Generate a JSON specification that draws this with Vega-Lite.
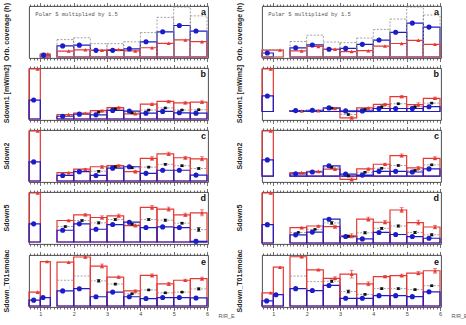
{
  "$schema": "https://vega.github.io/schema/vega-lite/v6.json",
  "padding": {"left": 2, "top": 1, "right": 0, "bottom": 0},
  "background": "white",
  "config": {
    "font": "Liberation Sans",
    "view": {"stroke": "#3a3a3a", "strokeWidth": 0.9},
    "axis": {"domain": false, "grid": false, "labelFont": "Liberation Sans", "titleFont": "Liberation Sans", "tickColor": "#333333", "tickWidth": 0.7, "labelColor": "#444444", "labelFontSize": 5.5},
    "header": {"labelOrient": "left", "labelAngle": -90, "labelPadding": 13, "labelFontSize": 7, "labelFontWeight": "bold", "labelColor": "#222222", "labelFont": "Liberation Sans"}
  },
  "datasets": {
    "rows": [
      {"side":"L","p":"a","s":"all","x0":1,"x1":1.3,"v":10},
      {"side":"L","p":"a","s":"B","x0":1,"x1":1.3,"r":1.1,"v":5},
      {"side":"L","p":"a","s":"A","x0":1,"x1":1.3,"r":1.22,"v":8},
      {"side":"L","p":"a","s":"all","x0":1.5,"x1":2,"v":47},
      {"side":"L","p":"a","s":"B","x0":1.5,"x1":2,"r":1.67,"v":30},
      {"side":"L","p":"a","s":"A","x0":1.5,"x1":2,"r":1.85,"v":16},
      {"side":"L","p":"a","s":"all","x0":2,"x1":2.5,"v":52},
      {"side":"L","p":"a","s":"B","x0":2,"x1":2.5,"r":2.17,"v":32},
      {"side":"L","p":"a","s":"A","x0":2,"x1":2.5,"r":2.35,"v":19.5},
      {"side":"L","p":"a","s":"all","x0":2.5,"x1":3,"v":36},
      {"side":"L","p":"a","s":"B","x0":2.5,"x1":3,"r":2.67,"v":18},
      {"side":"L","p":"a","s":"A","x0":2.5,"x1":3,"r":2.85,"v":18},
      {"side":"L","p":"a","s":"all","x0":3,"x1":3.5,"v":36},
      {"side":"L","p":"a","s":"B","x0":3,"x1":3.5,"r":3.17,"v":18},
      {"side":"L","p":"a","s":"A","x0":3,"x1":3.5,"r":3.35,"v":20},
      {"side":"L","p":"a","s":"all","x0":3.5,"x1":4,"v":41},
      {"side":"L","p":"a","s":"B","x0":3.5,"x1":4,"r":3.67,"v":22},
      {"side":"L","p":"a","s":"A","x0":3.5,"x1":4,"r":3.85,"v":16.5},
      {"side":"L","p":"a","s":"all","x0":4,"x1":4.5,"v":66},
      {"side":"L","p":"a","s":"B","x0":4,"x1":4.5,"r":4.17,"v":41},
      {"side":"L","p":"a","s":"A","x0":4,"x1":4.5,"r":4.35,"v":25},
      {"side":"L","p":"a","s":"all","x0":4.5,"x1":5,"v":107},
      {"side":"L","p":"a","s":"B","x0":4.5,"x1":5,"r":4.67,"v":68},
      {"side":"L","p":"a","s":"A","x0":4.5,"x1":5,"r":4.85,"v":37},
      {"side":"L","p":"a","s":"all","x0":5,"x1":5.5,"v":135},
      {"side":"L","p":"a","s":"B","x0":5,"x1":5.5,"r":5.17,"v":85},
      {"side":"L","p":"a","s":"A","x0":5,"x1":5.5,"r":5.35,"v":46},
      {"side":"L","p":"a","s":"all","x0":5.5,"x1":6,"v":111},
      {"side":"L","p":"a","s":"B","x0":5.5,"x1":6,"r":5.67,"v":70},
      {"side":"L","p":"a","s":"A","x0":5.5,"x1":6,"r":5.85,"v":41.5},

      {"side":"R","p":"a","s":"all","x0":0.66,"x1":1.3,"v":13},
      {"side":"R","p":"a","s":"B","x0":0.66,"x1":1,"r":0.82,"v":7},
      {"side":"R","p":"a","s":"A","x0":0.66,"x1":1.3,"r":1.2,"v":12},
      {"side":"R","p":"a","s":"all","x0":1.5,"x1":2,"v":27},
      {"side":"R","p":"a","s":"B","x0":1.5,"x1":2,"r":1.67,"v":16},
      {"side":"R","p":"a","s":"A","x0":1.5,"x1":2,"r":1.85,"v":10.5},
      {"side":"R","p":"a","s":"all","x0":2,"x1":2.5,"v":38},
      {"side":"R","p":"a","s":"B","x0":2,"x1":2.5,"r":2.17,"v":21},
      {"side":"R","p":"a","s":"A","x0":2,"x1":2.5,"r":2.35,"v":18.5},
      {"side":"R","p":"a","s":"all","x0":2.5,"x1":3,"v":26},
      {"side":"R","p":"a","s":"B","x0":2.5,"x1":3,"r":2.67,"v":13.5},
      {"side":"R","p":"a","s":"A","x0":2.5,"x1":3,"r":2.85,"v":13.5},
      {"side":"R","p":"a","s":"all","x0":3,"x1":3.5,"v":25},
      {"side":"R","p":"a","s":"B","x0":3,"x1":3.5,"r":3.17,"v":15},
      {"side":"R","p":"a","s":"A","x0":3,"x1":3.5,"r":3.35,"v":9.5},
      {"side":"R","p":"a","s":"all","x0":3.5,"x1":4,"v":33},
      {"side":"R","p":"a","s":"B","x0":3.5,"x1":4,"r":3.67,"v":22},
      {"side":"R","p":"a","s":"A","x0":3.5,"x1":4,"r":3.85,"v":11},
      {"side":"R","p":"a","s":"all","x0":4,"x1":4.5,"v":48},
      {"side":"R","p":"a","s":"B","x0":4,"x1":4.5,"r":4.17,"v":29.5},
      {"side":"R","p":"a","s":"A","x0":4,"x1":4.5,"r":4.35,"v":19},
      {"side":"R","p":"a","s":"all","x0":4.5,"x1":5,"v":66},
      {"side":"R","p":"a","s":"B","x0":4.5,"x1":5,"r":4.67,"v":43},
      {"side":"R","p":"a","s":"A","x0":4.5,"x1":5,"r":4.85,"v":23.5},
      {"side":"R","p":"a","s":"all","x0":5,"x1":5.5,"v":87},
      {"side":"R","p":"a","s":"B","x0":5,"x1":5.5,"r":5.17,"v":59},
      {"side":"R","p":"a","s":"A","x0":5,"x1":5.5,"r":5.35,"v":29},
      {"side":"R","p":"a","s":"all","x0":5.5,"x1":6,"v":73},
      {"side":"R","p":"a","s":"B","x0":5.5,"x1":6,"r":5.67,"v":52},
      {"side":"R","p":"a","s":"A","x0":5.5,"x1":6,"r":5.85,"v":22},

      {"side":"L","p":"b","s":"A","x0":0.66,"x1":1,"r":0.92,"v":1.45},
      {"side":"L","p":"b","s":"B","x0":0.66,"x1":1,"r":0.8,"v":0.55},
      {"side":"L","p":"b","s":"A","x0":1.5,"x1":2,"r":1.85,"v":0.13},
      {"side":"L","p":"b","s":"B","x0":1.5,"x1":2,"r":1.67,"v":0.08},
      {"side":"L","p":"b","s":"all","x0":1.5,"x1":2,"v":0.1},
      {"side":"L","p":"b","s":"A","x0":2,"x1":2.5,"r":2.35,"v":0.17},
      {"side":"L","p":"b","s":"B","x0":2,"x1":2.5,"r":2.17,"v":0.14},
      {"side":"L","p":"b","s":"all","x0":2,"x1":2.5,"v":0.15},
      {"side":"L","p":"b","s":"A","x0":2.5,"x1":3,"r":2.85,"v":0.24,"lo":0.22,"hi":0.26},
      {"side":"L","p":"b","s":"B","x0":2.5,"x1":3,"r":2.67,"v":0.12},
      {"side":"L","p":"b","s":"all","x0":2.5,"x1":3,"r":2.75,"v":0.2,"lo":0.185,"hi":0.215},
      {"side":"L","p":"b","s":"A","x0":3,"x1":3.5,"r":3.35,"v":0.33,"lo":0.31,"hi":0.35},
      {"side":"L","p":"b","s":"B","x0":3,"x1":3.5,"r":3.17,"v":0.25},
      {"side":"L","p":"b","s":"all","x0":3,"x1":3.5,"r":3.25,"v":0.29,"lo":0.275,"hi":0.305},
      {"side":"L","p":"b","s":"A","x0":3.5,"x1":4,"r":3.85,"v":0.15,"lo":0.13,"hi":0.17},
      {"side":"L","p":"b","s":"B","x0":3.5,"x1":4,"r":3.67,"v":0.23},
      {"side":"L","p":"b","s":"all","x0":3.5,"x1":4,"r":3.75,"v":0.18,"lo":0.165,"hi":0.195},
      {"side":"L","p":"b","s":"A","x0":4,"x1":4.5,"r":4.35,"v":0.43,"lo":0.4,"hi":0.46},
      {"side":"L","p":"b","s":"B","x0":4,"x1":4.5,"r":4.17,"v":0.17},
      {"side":"L","p":"b","s":"all","x0":4,"x1":4.5,"r":4.25,"v":0.26,"lo":0.245,"hi":0.275},
      {"side":"L","p":"b","s":"A","x0":4.5,"x1":5,"r":4.85,"v":0.51,"lo":0.48,"hi":0.54},
      {"side":"L","p":"b","s":"B","x0":4.5,"x1":5,"r":4.67,"v":0.22},
      {"side":"L","p":"b","s":"all","x0":4.5,"x1":5,"r":4.75,"v":0.32,"lo":0.305,"hi":0.335},
      {"side":"L","p":"b","s":"A","x0":5,"x1":5.5,"r":5.35,"v":0.47,"lo":0.44,"hi":0.5},
      {"side":"L","p":"b","s":"B","x0":5,"x1":5.5,"r":5.17,"v":0.18},
      {"side":"L","p":"b","s":"all","x0":5,"x1":5.5,"r":5.25,"v":0.26,"lo":0.245,"hi":0.275},
      {"side":"L","p":"b","s":"A","x0":5.5,"x1":6,"r":5.85,"v":0.49,"lo":0.455,"hi":0.525},
      {"side":"L","p":"b","s":"B","x0":5.5,"x1":6,"r":5.67,"v":0.17},
      {"side":"L","p":"b","s":"all","x0":5.5,"x1":6,"r":5.75,"v":0.27,"lo":0.255,"hi":0.285},

      {"side":"R","p":"b","s":"A","x0":0.66,"x1":1,"r":0.92,"v":1.42},
      {"side":"R","p":"b","s":"B","x0":0.66,"x1":1,"r":0.82,"v":0.52},
      {"side":"R","p":"b","s":"A","x0":1.5,"x1":2,"r":1.85,"v":0.02},
      {"side":"R","p":"b","s":"B","x0":1.5,"x1":2,"r":1.67,"v":0.03},
      {"side":"R","p":"b","s":"all","x0":1.5,"x1":2,"v":0.025},
      {"side":"R","p":"b","s":"A","x0":2,"x1":2.5,"r":2.35,"v":0.03},
      {"side":"R","p":"b","s":"B","x0":2,"x1":2.5,"r":2.17,"v":0.04},
      {"side":"R","p":"b","s":"all","x0":2,"x1":2.5,"v":0.035},
      {"side":"R","p":"b","s":"A","x0":2.5,"x1":3,"r":2.85,"v":0.1,"lo":0.085,"hi":0.115},
      {"side":"R","p":"b","s":"B","x0":2.5,"x1":3,"r":2.67,"v":0.12},
      {"side":"R","p":"b","s":"all","x0":2.5,"x1":3,"r":2.75,"v":0.11,"lo":0.1,"hi":0.12},
      {"side":"R","p":"b","s":"A","x0":3,"x1":3.5,"r":3.35,"v":-0.21,"lo":-0.25,"hi":-0.17},
      {"side":"R","p":"b","s":"B","x0":3,"x1":3.5,"r":3.17,"v":0.02},
      {"side":"R","p":"b","s":"all","x0":3,"x1":3.5,"r":3.25,"v":-0.1,"lo":-0.12,"hi":-0.08},
      {"side":"R","p":"b","s":"A","x0":3.5,"x1":4,"r":3.85,"v":0.12,"lo":0.1,"hi":0.14},
      {"side":"R","p":"b","s":"B","x0":3.5,"x1":4,"r":3.67,"v":0.02},
      {"side":"R","p":"b","s":"all","x0":3.5,"x1":4,"r":3.75,"v":0.07,"lo":0.06,"hi":0.08},
      {"side":"R","p":"b","s":"A","x0":4,"x1":4.5,"r":4.35,"v":0.24,"lo":0.21,"hi":0.27},
      {"side":"R","p":"b","s":"B","x0":4,"x1":4.5,"r":4.17,"v":0.1},
      {"side":"R","p":"b","s":"all","x0":4,"x1":4.5,"r":4.25,"v":0.16,"lo":0.15,"hi":0.17},
      {"side":"R","p":"b","s":"A","x0":4.5,"x1":5,"r":4.85,"v":0.5,"lo":0.46,"hi":0.54},
      {"side":"R","p":"b","s":"B","x0":4.5,"x1":5,"r":4.67,"v":0.1},
      {"side":"R","p":"b","s":"all","x0":4.5,"x1":5,"r":4.75,"v":0.26,"lo":0.245,"hi":0.275},
      {"side":"R","p":"b","s":"A","x0":5,"x1":5.5,"r":5.35,"v":0.23,"lo":0.17,"hi":0.29},
      {"side":"R","p":"b","s":"B","x0":5,"x1":5.5,"r":5.17,"v":0.1},
      {"side":"R","p":"b","s":"all","x0":5,"x1":5.5,"r":5.25,"v":0.16,"lo":0.145,"hi":0.175},
      {"side":"R","p":"b","s":"A","x0":5.5,"x1":6,"r":5.85,"v":0.44,"lo":0.4,"hi":0.48},
      {"side":"R","p":"b","s":"B","x0":5.5,"x1":6,"r":5.67,"v":0.16},
      {"side":"R","p":"b","s":"all","x0":5.5,"x1":6,"r":5.75,"v":0.28,"lo":0.265,"hi":0.295},

      {"side":"L","p":"c","s":"A","x0":0.66,"x1":1,"r":0.92,"v":1.44},
      {"side":"L","p":"c","s":"B","x0":0.66,"x1":1,"r":0.8,"v":0.55},
      {"side":"L","p":"c","s":"A","x0":1.5,"x1":2,"r":1.85,"v":0.24,"lo":0.225,"hi":0.255},
      {"side":"L","p":"c","s":"B","x0":1.5,"x1":2,"r":1.67,"v":0.16},
      {"side":"L","p":"c","s":"all","x0":1.5,"x1":2,"v":0.2},
      {"side":"L","p":"c","s":"A","x0":2,"x1":2.5,"r":2.35,"v":0.34,"lo":0.32,"hi":0.36},
      {"side":"L","p":"c","s":"B","x0":2,"x1":2.5,"r":2.17,"v":0.27},
      {"side":"L","p":"c","s":"all","x0":2,"x1":2.5,"v":0.3},
      {"side":"L","p":"c","s":"A","x0":2.5,"x1":3,"r":2.85,"v":0.41,"lo":0.37,"hi":0.45},
      {"side":"L","p":"c","s":"B","x0":2.5,"x1":3,"r":2.67,"v":0.16},
      {"side":"L","p":"c","s":"all","x0":2.5,"x1":3,"r":2.75,"v":0.28,"lo":0.26,"hi":0.3},
      {"side":"L","p":"c","s":"A","x0":3,"x1":3.5,"r":3.35,"v":0.44,"lo":0.41,"hi":0.47},
      {"side":"L","p":"c","s":"B","x0":3,"x1":3.5,"r":3.17,"v":0.37},
      {"side":"L","p":"c","s":"all","x0":3,"x1":3.5,"r":3.25,"v":0.41,"lo":0.39,"hi":0.43},
      {"side":"L","p":"c","s":"A","x0":3.5,"x1":4,"r":3.85,"v":0.27,"lo":0.24,"hi":0.3},
      {"side":"L","p":"c","s":"B","x0":3.5,"x1":4,"r":3.67,"v":0.41},
      {"side":"L","p":"c","s":"all","x0":3.5,"x1":4,"r":3.75,"v":0.38,"lo":0.36,"hi":0.4},
      {"side":"L","p":"c","s":"A","x0":4,"x1":4.5,"r":4.35,"v":0.65,"lo":0.6,"hi":0.7},
      {"side":"L","p":"c","s":"B","x0":4,"x1":4.5,"r":4.17,"v":0.22},
      {"side":"L","p":"c","s":"all","x0":4,"x1":4.5,"r":4.25,"v":0.4,"lo":0.38,"hi":0.42},
      {"side":"L","p":"c","s":"A","x0":4.5,"x1":5,"r":4.85,"v":0.78,"lo":0.73,"hi":0.83},
      {"side":"L","p":"c","s":"B","x0":4.5,"x1":5,"r":4.67,"v":0.31},
      {"side":"L","p":"c","s":"all","x0":4.5,"x1":5,"r":4.75,"v":0.48,"lo":0.46,"hi":0.5},
      {"side":"L","p":"c","s":"A","x0":5,"x1":5.5,"r":5.35,"v":0.67,"lo":0.63,"hi":0.71},
      {"side":"L","p":"c","s":"B","x0":5,"x1":5.5,"r":5.17,"v":0.31},
      {"side":"L","p":"c","s":"all","x0":5,"x1":5.5,"r":5.25,"v":0.44,"lo":0.42,"hi":0.46},
      {"side":"L","p":"c","s":"A","x0":5.5,"x1":6,"r":5.85,"v":0.64,"lo":0.58,"hi":0.7},
      {"side":"L","p":"c","s":"B","x0":5.5,"x1":6,"r":5.67,"v":0.17},
      {"side":"L","p":"c","s":"all","x0":5.5,"x1":6,"r":5.75,"v":0.36,"lo":0.34,"hi":0.38},

      {"side":"R","p":"c","s":"A","x0":0.66,"x1":1,"r":0.92,"v":1.45},
      {"side":"R","p":"c","s":"B","x0":0.66,"x1":1,"r":0.82,"v":0.52},
      {"side":"R","p":"c","s":"A","x0":1.5,"x1":2,"r":1.85,"v":0.11},
      {"side":"R","p":"c","s":"B","x0":1.5,"x1":2,"r":1.67,"v":0.07},
      {"side":"R","p":"c","s":"all","x0":1.5,"x1":2,"v":0.09},
      {"side":"R","p":"c","s":"A","x0":2,"x1":2.5,"r":2.35,"v":0.15},
      {"side":"R","p":"c","s":"B","x0":2,"x1":2.5,"r":2.17,"v":0.13},
      {"side":"R","p":"c","s":"all","x0":2,"x1":2.5,"v":0.14},
      {"side":"R","p":"c","s":"A","x0":2.5,"x1":3,"r":2.85,"v":0.22,"lo":0.2,"hi":0.24},
      {"side":"R","p":"c","s":"B","x0":2.5,"x1":3,"r":2.67,"v":0.33},
      {"side":"R","p":"c","s":"all","x0":2.5,"x1":3,"r":2.75,"v":0.28,"lo":0.26,"hi":0.3},
      {"side":"R","p":"c","s":"A","x0":3,"x1":3.5,"r":3.35,"v":-0.11,"lo":-0.16,"hi":-0.06},
      {"side":"R","p":"c","s":"B","x0":3,"x1":3.5,"r":3.17,"v":0.06},
      {"side":"R","p":"c","s":"all","x0":3,"x1":3.5,"r":3.25,"v":0,"lo":-0.02,"hi":0.02},
      {"side":"R","p":"c","s":"A","x0":3.5,"x1":4,"r":3.85,"v":0.23,"lo":0.2,"hi":0.26},
      {"side":"R","p":"c","s":"B","x0":3.5,"x1":4,"r":3.67,"v":0.03},
      {"side":"R","p":"c","s":"all","x0":3.5,"x1":4,"r":3.75,"v":0.12,"lo":0.105,"hi":0.135},
      {"side":"R","p":"c","s":"A","x0":4,"x1":4.5,"r":4.35,"v":0.38,"lo":0.35,"hi":0.41},
      {"side":"R","p":"c","s":"B","x0":4,"x1":4.5,"r":4.17,"v":0.15},
      {"side":"R","p":"c","s":"all","x0":4,"x1":4.5,"r":4.25,"v":0.25,"lo":0.235,"hi":0.265},
      {"side":"R","p":"c","s":"A","x0":4.5,"x1":5,"r":4.85,"v":0.66,"lo":0.61,"hi":0.71},
      {"side":"R","p":"c","s":"B","x0":4.5,"x1":5,"r":4.67,"v":0.15},
      {"side":"R","p":"c","s":"all","x0":4.5,"x1":5,"r":4.75,"v":0.34,"lo":0.32,"hi":0.36},
      {"side":"R","p":"c","s":"A","x0":5,"x1":5.5,"r":5.35,"v":0.26,"lo":0.21,"hi":0.31},
      {"side":"R","p":"c","s":"B","x0":5,"x1":5.5,"r":5.17,"v":0.13},
      {"side":"R","p":"c","s":"all","x0":5,"x1":5.5,"r":5.25,"v":0.18,"lo":0.165,"hi":0.195},
      {"side":"R","p":"c","s":"A","x0":5.5,"x1":6,"r":5.85,"v":0.57,"lo":0.52,"hi":0.62},
      {"side":"R","p":"c","s":"B","x0":5.5,"x1":6,"r":5.67,"v":0.23},
      {"side":"R","p":"c","s":"all","x0":5.5,"x1":6,"r":5.75,"v":0.36,"lo":0.34,"hi":0.38},

      {"side":"L","p":"d","s":"A","x0":0.66,"x1":1,"r":0.92,"v":1.46},
      {"side":"L","p":"d","s":"B","x0":0.66,"x1":1,"r":0.8,"v":0.54},
      {"side":"L","p":"d","s":"A","x0":1.5,"x1":2,"r":1.85,"v":0.64,"lo":0.62,"hi":0.66},
      {"side":"L","p":"d","s":"B","x0":1.5,"x1":2,"r":1.67,"v":0.35},
      {"side":"L","p":"d","s":"all","x0":1.5,"x1":2,"r":1.75,"v":0.46,"lo":0.445,"hi":0.475},
      {"side":"L","p":"d","s":"A","x0":2,"x1":2.5,"r":2.35,"v":0.81,"lo":0.78,"hi":0.84},
      {"side":"L","p":"d","s":"B","x0":2,"x1":2.5,"r":2.17,"v":0.54},
      {"side":"L","p":"d","s":"all","x0":2,"x1":2.5,"r":2.25,"v":0.64,"lo":0.62,"hi":0.66},
      {"side":"L","p":"d","s":"A","x0":2.5,"x1":3,"r":2.85,"v":0.73,"lo":0.68,"hi":0.78},
      {"side":"L","p":"d","s":"B","x0":2.5,"x1":3,"r":2.67,"v":0.38},
      {"side":"L","p":"d","s":"all","x0":2.5,"x1":3,"r":2.75,"v":0.57,"lo":0.54,"hi":0.6},
      {"side":"L","p":"d","s":"A","x0":3,"x1":3.5,"r":3.35,"v":0.78,"lo":0.73,"hi":0.83},
      {"side":"L","p":"d","s":"B","x0":3,"x1":3.5,"r":3.17,"v":0.52},
      {"side":"L","p":"d","s":"all","x0":3,"x1":3.5,"r":3.25,"v":0.67,"lo":0.64,"hi":0.7},
      {"side":"L","p":"d","s":"A","x0":3.5,"x1":4,"r":3.85,"v":0.49,"lo":0.45,"hi":0.53},
      {"side":"L","p":"d","s":"B","x0":3.5,"x1":4,"r":3.67,"v":0.59},
      {"side":"L","p":"d","s":"all","x0":3.5,"x1":4,"r":3.75,"v":0.53,"lo":0.51,"hi":0.55},
      {"side":"L","p":"d","s":"A","x0":4,"x1":4.5,"r":4.35,"v":1.03,"lo":0.97,"hi":1.09},
      {"side":"L","p":"d","s":"B","x0":4,"x1":4.5,"r":4.17,"v":0.43},
      {"side":"L","p":"d","s":"all","x0":4,"x1":4.5,"r":4.25,"v":0.67,"lo":0.64,"hi":0.7},
      {"side":"L","p":"d","s":"A","x0":4.5,"x1":5,"r":4.85,"v":0.98,"lo":0.92,"hi":1.04},
      {"side":"L","p":"d","s":"B","x0":4.5,"x1":5,"r":4.67,"v":0.45},
      {"side":"L","p":"d","s":"all","x0":4.5,"x1":5,"r":4.75,"v":0.65,"lo":0.62,"hi":0.68},
      {"side":"L","p":"d","s":"A","x0":5,"x1":5.5,"r":5.35,"v":0.81,"lo":0.76,"hi":0.86},
      {"side":"L","p":"d","s":"B","x0":5,"x1":5.5,"r":5.17,"v":0.43},
      {"side":"L","p":"d","s":"all","x0":5,"x1":5.5,"r":5.25,"v":0.56,"lo":0.54,"hi":0.58},
      {"side":"L","p":"d","s":"A","x0":5.5,"x1":6,"r":5.85,"v":0.87,"lo":0.78,"hi":0.96},
      {"side":"L","p":"d","s":"B","x0":5.5,"x1":6,"r":5.67,"v":0.02,"lo":-0.03,"hi":0.08},
      {"side":"L","p":"d","s":"all","x0":5.5,"x1":6,"r":5.75,"v":0.37,"lo":0.31,"hi":0.43},

      {"side":"R","p":"d","s":"A","x0":0.66,"x1":1,"r":0.92,"v":1.47},
      {"side":"R","p":"d","s":"B","x0":0.66,"x1":1,"r":0.82,"v":0.54},
      {"side":"R","p":"d","s":"A","x0":1.5,"x1":2,"r":1.85,"v":0.45,"lo":0.43,"hi":0.47},
      {"side":"R","p":"d","s":"B","x0":1.5,"x1":2,"r":1.67,"v":0.24},
      {"side":"R","p":"d","s":"all","x0":1.5,"x1":2,"r":1.75,"v":0.31,"lo":0.3,"hi":0.32},
      {"side":"R","p":"d","s":"A","x0":2,"x1":2.5,"r":2.35,"v":0.5,"lo":0.48,"hi":0.52},
      {"side":"R","p":"d","s":"B","x0":2,"x1":2.5,"r":2.17,"v":0.32},
      {"side":"R","p":"d","s":"all","x0":2,"x1":2.5,"r":2.25,"v":0.4,"lo":0.39,"hi":0.41},
      {"side":"R","p":"d","s":"A","x0":2.5,"x1":3,"r":2.85,"v":0.48,"lo":0.44,"hi":0.52},
      {"side":"R","p":"d","s":"B","x0":2.5,"x1":3,"r":2.67,"v":0.7},
      {"side":"R","p":"d","s":"all","x0":2.5,"x1":3,"r":2.75,"v":0.59,"lo":0.55,"hi":0.63},
      {"side":"R","p":"d","s":"A","x0":3,"x1":3.5,"r":3.35,"v":0.21,"lo":0.15,"hi":0.27},
      {"side":"R","p":"d","s":"B","x0":3,"x1":3.5,"r":3.17,"v":0.19},
      {"side":"R","p":"d","s":"all","x0":3,"x1":3.5,"r":3.25,"v":0.2,"lo":0.17,"hi":0.23},
      {"side":"R","p":"d","s":"A","x0":3.5,"x1":4,"r":3.85,"v":0.7,"lo":0.64,"hi":0.76},
      {"side":"R","p":"d","s":"B","x0":3.5,"x1":4,"r":3.67,"v":0.12},
      {"side":"R","p":"d","s":"all","x0":3.5,"x1":4,"r":3.75,"v":0.3,"lo":0.27,"hi":0.33},
      {"side":"R","p":"d","s":"A","x0":4,"x1":4.5,"r":4.35,"v":0.61,"lo":0.56,"hi":0.66},
      {"side":"R","p":"d","s":"B","x0":4,"x1":4.5,"r":4.17,"v":0.31},
      {"side":"R","p":"d","s":"all","x0":4,"x1":4.5,"r":4.25,"v":0.43,"lo":0.4,"hi":0.46},
      {"side":"R","p":"d","s":"A","x0":4.5,"x1":5,"r":4.85,"v":0.97,"lo":0.9,"hi":1.04},
      {"side":"R","p":"d","s":"B","x0":4.5,"x1":5,"r":4.67,"v":0.25},
      {"side":"R","p":"d","s":"all","x0":4.5,"x1":5,"r":4.75,"v":0.5,"lo":0.47,"hi":0.53},
      {"side":"R","p":"d","s":"A","x0":5,"x1":5.5,"r":5.35,"v":0.6,"lo":0.53,"hi":0.67},
      {"side":"R","p":"d","s":"B","x0":5,"x1":5.5,"r":5.17,"v":0.19},
      {"side":"R","p":"d","s":"all","x0":5,"x1":5.5,"r":5.25,"v":0.31,"lo":0.28,"hi":0.34},
      {"side":"R","p":"d","s":"A","x0":5.5,"x1":6,"r":5.85,"v":0.47,"lo":0.42,"hi":0.52},
      {"side":"R","p":"d","s":"B","x0":5.5,"x1":6,"r":5.67,"v":0.14},
      {"side":"R","p":"d","s":"all","x0":5.5,"x1":6,"r":5.75,"v":0.24,"lo":0.21,"hi":0.27},

      {"side":"L","p":"e","s":"A","x0":0.66,"x1":1,"r":0.92,"v":1.38},
      {"side":"L","p":"e","s":"B","x0":0.66,"x1":1,"r":0.8,"v":0.58},
      {"side":"L","p":"e","s":"A","x0":1,"x1":1.3,"r":1.2,"v":4.42},
      {"side":"L","p":"e","s":"B","x0":1,"x1":1.3,"r":1.08,"v":0.84},
      {"side":"L","p":"e","s":"A","x0":1.5,"x1":2,"r":1.85,"v":4.36},
      {"side":"L","p":"e","s":"B","x0":1.5,"x1":2,"r":1.67,"v":1.5},
      {"side":"L","p":"e","s":"all","x0":1.5,"x1":2,"v":2.56},
      {"side":"L","p":"e","s":"A","x0":2,"x1":2.5,"r":2.35,"v":4.87,"lo":4.77,"hi":4.97},
      {"side":"L","p":"e","s":"B","x0":2,"x1":2.5,"r":2.17,"v":1.72},
      {"side":"L","p":"e","s":"all","x0":2,"x1":2.5,"v":2.98},
      {"side":"L","p":"e","s":"A","x0":2.5,"x1":3,"r":2.85,"v":3.97,"lo":3.77,"hi":4.17},
      {"side":"L","p":"e","s":"B","x0":2.5,"x1":3,"r":2.67,"v":0.92},
      {"side":"L","p":"e","s":"all","x0":2.5,"x1":3,"r":2.75,"v":2.5,"lo":2.38,"hi":2.62},
      {"side":"L","p":"e","s":"A","x0":3,"x1":3.5,"r":3.35,"v":2.88,"lo":2.78,"hi":2.98},
      {"side":"L","p":"e","s":"B","x0":3,"x1":3.5,"r":3.17,"v":1.38},
      {"side":"L","p":"e","s":"all","x0":3,"x1":3.5,"r":3.25,"v":2.18,"lo":2.1,"hi":2.26},
      {"side":"L","p":"e","s":"A","x0":3.5,"x1":4,"r":3.85,"v":1.5,"lo":1.4,"hi":1.6},
      {"side":"L","p":"e","s":"B","x0":3.5,"x1":4,"r":3.67,"v":0.92},
      {"side":"L","p":"e","s":"all","x0":3.5,"x1":4,"r":3.75,"v":1.22,"lo":1.17,"hi":1.27},
      {"side":"L","p":"e","s":"A","x0":4,"x1":4.5,"r":4.35,"v":3.04,"lo":2.89,"hi":3.19},
      {"side":"L","p":"e","s":"B","x0":4,"x1":4.5,"r":4.17,"v":0.74},
      {"side":"L","p":"e","s":"all","x0":4,"x1":4.5,"r":4.25,"v":1.6,"lo":1.55,"hi":1.65},
      {"side":"L","p":"e","s":"A","x0":4.5,"x1":5,"r":4.85,"v":2.2,"lo":2.05,"hi":2.35},
      {"side":"L","p":"e","s":"B","x0":4.5,"x1":5,"r":4.67,"v":0.84},
      {"side":"L","p":"e","s":"all","x0":4.5,"x1":5,"r":4.75,"v":1.31,"lo":1.26,"hi":1.36},
      {"side":"L","p":"e","s":"A","x0":5,"x1":5.5,"r":5.35,"v":2.56,"lo":2.46,"hi":2.66},
      {"side":"L","p":"e","s":"B","x0":5,"x1":5.5,"r":5.17,"v":0.84},
      {"side":"L","p":"e","s":"all","x0":5,"x1":5.5,"r":5.25,"v":1.38,"lo":1.34,"hi":1.42},
      {"side":"L","p":"e","s":"A","x0":5.5,"x1":6,"r":5.85,"v":2.72,"lo":2.57,"hi":2.87},
      {"side":"L","p":"e","s":"B","x0":5.5,"x1":6,"r":5.67,"v":0.8},
      {"side":"L","p":"e","s":"all","x0":5.5,"x1":6,"r":5.75,"v":1.7,"lo":1.6,"hi":1.8},

      {"side":"R","p":"e","s":"A","x0":0.66,"x1":1,"r":0.92,"v":1.37},
      {"side":"R","p":"e","s":"B","x0":0.66,"x1":1,"r":0.8,"v":0.53},
      {"side":"R","p":"e","s":"A","x0":1,"x1":1.3,"r":1.2,"v":4.02},
      {"side":"R","p":"e","s":"B","x0":1,"x1":1.3,"r":1.08,"v":1.17},
      {"side":"R","p":"e","s":"A","x0":1.5,"x1":2,"r":1.85,"v":5.1,"lo":5.02,"hi":5.18},
      {"side":"R","p":"e","s":"B","x0":1.5,"x1":2,"r":1.67,"v":1.8},
      {"side":"R","p":"e","s":"all","x0":1.5,"x1":2,"v":3.1},
      {"side":"R","p":"e","s":"A","x0":2,"x1":2.5,"r":2.35,"v":3.75,"lo":3.68,"hi":3.82},
      {"side":"R","p":"e","s":"B","x0":2,"x1":2.5,"r":2.17,"v":1.6},
      {"side":"R","p":"e","s":"all","x0":2,"x1":2.5,"v":2.53},
      {"side":"R","p":"e","s":"A","x0":2.5,"x1":3,"r":2.85,"v":2.87,"lo":2.72,"hi":3.02},
      {"side":"R","p":"e","s":"B","x0":2.5,"x1":3,"r":2.67,"v":2.13},
      {"side":"R","p":"e","s":"all","x0":2.5,"x1":3,"r":2.75,"v":2.57,"lo":2.45,"hi":2.69},
      {"side":"R","p":"e","s":"A","x0":3,"x1":3.5,"r":3.35,"v":3.3,"lo":2.9,"hi":3.7},
      {"side":"R","p":"e","s":"B","x0":3,"x1":3.5,"r":3.17,"v":0.8},
      {"side":"R","p":"e","s":"all","x0":3,"x1":3.5,"r":3.25,"v":1.5,"lo":1.35,"hi":1.65},
      {"side":"R","p":"e","s":"A","x0":3.5,"x1":4,"r":3.85,"v":2.3,"lo":2.1,"hi":2.5},
      {"side":"R","p":"e","s":"B","x0":3.5,"x1":4,"r":3.67,"v":0.8},
      {"side":"R","p":"e","s":"all","x0":3.5,"x1":4,"r":3.75,"v":1.2,"lo":1.15,"hi":1.25},
      {"side":"R","p":"e","s":"A","x0":4,"x1":4.5,"r":4.35,"v":3.05,"lo":2.93,"hi":3.17},
      {"side":"R","p":"e","s":"B","x0":4,"x1":4.5,"r":4.17,"v":1.07},
      {"side":"R","p":"e","s":"all","x0":4,"x1":4.5,"r":4.25,"v":1.8,"lo":1.73,"hi":1.87},
      {"side":"R","p":"e","s":"A","x0":4.5,"x1":5,"r":4.85,"v":3.15,"lo":3,"hi":3.3},
      {"side":"R","p":"e","s":"B","x0":4.5,"x1":5,"r":4.67,"v":1.07},
      {"side":"R","p":"e","s":"all","x0":4.5,"x1":5,"r":4.75,"v":1.8,"lo":1.73,"hi":1.87},
      {"side":"R","p":"e","s":"A","x0":5,"x1":5.5,"r":5.35,"v":3.4,"lo":3.23,"hi":3.57},
      {"side":"R","p":"e","s":"B","x0":5,"x1":5.5,"r":5.17,"v":0.97},
      {"side":"R","p":"e","s":"all","x0":5,"x1":5.5,"r":5.25,"v":1.7,"lo":1.65,"hi":1.75},
      {"side":"R","p":"e","s":"A","x0":5.5,"x1":6,"r":5.85,"v":3.65,"lo":3.4,"hi":3.9},
      {"side":"R","p":"e","s":"B","x0":5.5,"x1":6,"r":5.67,"v":1.47},
      {"side":"R","p":"e","s":"all","x0":5.5,"x1":6,"r":5.75,"v":2.1,"lo":2.05,"hi":2.15}
    ]
  },
  "data": {"name": "rows"},
  "spacing": 0,
  "hconcat": [
    {
      "spacing": 0,
      "vconcat": [
        {
          "transform": [{"filter": "datum.side === 'L' && datum.p !== 'e'"}],
          "facet": {"row": {"field": "p", "type": "nominal", "header": {"title": null,
            "labelExpr": "datum.value === 'a' ? 'Orb. coverage (h)' : datum.value === 'b' ? 'Sdown1 [mW/m2]' : datum.value === 'c' ? 'Sdown2' : 'Sdown5'"}}},
          "spacing": 0,
          "resolve": {"scale": {"y": "independent"}, "axis": {"x": "independent"}},
          "spec": {
            "width": 179,
            "height": 52,
            "resolve": {"axis": {"x": "independent"}},
            "layer": [
              {
                "transform": [{"filter": "datum.s !== 'all'"}],
                "mark": {"type": "rect", "fillOpacity": 0, "strokeWidth": 1.2},
                "encoding": {
                  "x": {"field": "x0", "type": "quantitative", "scale": {"domain": [0.66, 6.03], "nice": false, "zero": false},
                    "axis": {"orient": "bottom", "title": null, "labels": false, "values": [0.7,0.8,0.9,1,1.1,1.2,1.3,1.4,1.5,1.6,1.7,1.8,1.9,2,2.1,2.2,2.3,2.4,2.5,2.6,2.7,2.8,2.9,3,3.1,3.2,3.3,3.4,3.5,3.6,3.7,3.8,3.9,4,4.1,4.2,4.3,4.4,4.5,4.6,4.7,4.8,4.9,5,5.1,5.2,5.3,5.4,5.5,5.6,5.7,5.8,5.9,6],
                      "tickSize": {"condition": {"test": "datum.value % 1 === 0", "value": 3.5}, "value": 2}}},
                  "x2": {"field": "x1"},
                  "y": {"field": "v", "type": "quantitative", "scale": {"zero": true, "nice": false, "padding": 1},
                    "axis": {"title": null, "tickCount": 3, "format": "~g", "tickSize": 2.5, "labelPadding": 1}},
                  "y2": {"datum": 0},
                  "stroke": {"field": "s", "type": "nominal", "scale": {"domain": ["A", "B"], "range": ["#e53935", "#1c1cc8"]}, "legend": null}
                }
              },
              {
                "transform": [{"filter": "datum.s === 'all' && datum.p === 'a'"}],
                "mark": {"type": "rect", "fillOpacity": 0, "stroke": "#8c8c8c", "strokeWidth": 0.8, "strokeDash": [2, 1.5]},
                "encoding": {
                  "x": {"field": "x0", "type": "quantitative", "axis": null},
                  "x2": {"field": "x1"},
                  "y": {"field": "v", "type": "quantitative", "axis": null},
                  "y2": {"datum": 0}
                }
              },
              {
                "transform": [{"filter": "datum.s === 'all' && datum.p !== 'a'"}],
                "mark": {"type": "rule", "stroke": "#8c8c8c", "strokeWidth": 0.8, "strokeDash": [2, 1.5]},
                "encoding": {
                  "x": {"field": "x0", "type": "quantitative",
                    "axis": {"orient": "top", "title": null, "labels": false, "values": [0.7,0.8,0.9,1,1.1,1.2,1.3,1.4,1.5,1.6,1.7,1.8,1.9,2,2.1,2.2,2.3,2.4,2.5,2.6,2.7,2.8,2.9,3,3.1,3.2,3.3,3.4,3.5,3.6,3.7,3.8,3.9,4,4.1,4.2,4.3,4.4,4.5,4.6,4.7,4.8,4.9,5,5.1,5.2,5.3,5.4,5.5,5.6,5.7,5.8,5.9,6],
                      "tickSize": {"condition": {"test": "datum.value % 1 === 0", "value": 3.5}, "value": 2}}},
                  "x2": {"field": "x1"},
                  "y": {"field": "v", "type": "quantitative", "axis": null}
                }
              },
              {
                "transform": [{"filter": "isValid(datum.lo)"}],
                "mark": {"type": "errorbar", "ticks": true, "size": 4, "thickness": 0.8},
                "encoding": {
                  "x": {"field": "r", "type": "quantitative", "axis": null},
                  "y": {"field": "lo", "type": "quantitative", "axis": null},
                  "y2": {"field": "hi"},
                  "color": {"field": "s", "type": "nominal", "scale": {"domain": ["all", "A", "B"], "range": ["#111111", "#e53935", "#1c1cc8"]}, "legend": null}
                }
              },
              {
                "transform": [{"filter": "isValid(datum.r)"}],
                "mark": {"type": "point", "filled": true, "opacity": 1},
                "encoding": {
                  "x": {"field": "r", "type": "quantitative", "axis": null},
                  "y": {"field": "v", "type": "quantitative", "axis": null},
                  "color": {"field": "s", "type": "nominal", "legend": null},
                  "shape": {"field": "s", "type": "nominal", "scale": {"domain": ["all", "A", "B"], "range": ["square", "triangle-up", "circle"]}, "legend": null},
                  "size": {"field": "s", "type": "nominal", "scale": {"domain": ["all", "A", "B"], "range": [7, 26, 22]}, "legend": null}
                }
              },
              {
                "transform": [{"aggregate": [{"op": "max", "field": "v", "as": "top"}], "groupby": ["p"]}],
                "mark": {"type": "text", "align": "right", "baseline": "top", "dx": -2, "dy": 1, "fontSize": 9, "fontWeight": "bold", "font": "Liberation Sans", "color": "#111111"},
                "encoding": {
                  "x": {"datum": 6.03, "type": "quantitative", "axis": null},
                  "y": {"field": "top", "type": "quantitative", "axis": null},
                  "text": {"field": "p"}
                }
              },
              {
                "transform": [{"filter": "datum.p === 'a'"}, {"aggregate": [{"op": "max", "field": "v", "as": "top"}]}],
                "mark": {"type": "text", "align": "left", "baseline": "top", "dy": 5, "fontSize": 5.5, "font": "Liberation Mono", "color": "#555555", "text": "Polar S multiplied by 1.5"},
                "encoding": {
                  "x": {"datum": 0.85, "type": "quantitative", "axis": null},
                  "y": {"field": "top", "type": "quantitative", "axis": null}
                }
              }
            ]
          }
        },
        {
          "transform": [{"filter": "datum.side === 'L' && datum.p === 'e'"}],
          "facet": {"row": {"field": "p", "type": "nominal", "header": {"title": null, "labelExpr": "'Sdown_T01smolac'"}}},
          "spacing": 0,
          "resolve": {"scale": {"y": "independent"}, "axis": {"x": "independent"}},
          "spec": {
            "width": 179,
            "height": 52,
            "resolve": {"axis": {"x": "independent"}},
            "layer": [
              {
                "transform": [{"filter": "datum.s !== 'all'"}],
                "mark": {"type": "rect", "fillOpacity": 0, "strokeWidth": 1.2},
                "encoding": {
                  "x": {"field": "x0", "type": "quantitative", "scale": {"domain": [0.66, 6.03], "nice": false, "zero": false},
                    "axis": {"orient": "bottom", "labels": true, "format": "~g", "labelExpr": "datum.value % 1 === 0 ? datum.label : ''", "labelOverlap": false, "labelFlush": false, "labelFontSize": 5.5, "labelPadding": 1,
                      "values": [0.7,0.8,0.9,1,1.1,1.2,1.3,1.4,1.5,1.6,1.7,1.8,1.9,2,2.1,2.2,2.3,2.4,2.5,2.6,2.7,2.8,2.9,3,3.1,3.2,3.3,3.4,3.5,3.6,3.7,3.8,3.9,4,4.1,4.2,4.3,4.4,4.5,4.6,4.7,4.8,4.9,5,5.1,5.2,5.3,5.4,5.5,5.6,5.7,5.8,5.9,6],
                      "tickSize": {"condition": {"test": "datum.value % 1 === 0", "value": 3.5}, "value": 2},
                      "title": "R/R_E", "titleX": 189, "titleY": 8.5, "titleAlign": "left", "titleBaseline": "middle", "titleAngle": 0, "titleFontSize": 5.5, "titleFontWeight": "normal", "titleColor": "#555555"}},
                  "x2": {"field": "x1"},
                  "y": {"field": "v", "type": "quantitative", "scale": {"zero": true, "nice": false, "padding": 1},
                    "axis": {"title": null, "tickCount": 6, "format": "~g", "tickSize": 2.5, "labelPadding": 1}},
                  "y2": {"datum": 0},
                  "stroke": {"field": "s", "type": "nominal", "scale": {"domain": ["A", "B"], "range": ["#e53935", "#1c1cc8"]}, "legend": null}
                }
              },
              {
                "transform": [{"filter": "datum.s === 'all'"}],
                "mark": {"type": "rule", "stroke": "#8c8c8c", "strokeWidth": 0.8, "strokeDash": [2, 1.5]},
                "encoding": {
                  "x": {"field": "x0", "type": "quantitative",
                    "axis": {"orient": "top", "title": null, "labels": false, "values": [0.7,0.8,0.9,1,1.1,1.2,1.3,1.4,1.5,1.6,1.7,1.8,1.9,2,2.1,2.2,2.3,2.4,2.5,2.6,2.7,2.8,2.9,3,3.1,3.2,3.3,3.4,3.5,3.6,3.7,3.8,3.9,4,4.1,4.2,4.3,4.4,4.5,4.6,4.7,4.8,4.9,5,5.1,5.2,5.3,5.4,5.5,5.6,5.7,5.8,5.9,6],
                      "tickSize": {"condition": {"test": "datum.value % 1 === 0", "value": 3.5}, "value": 2}}},
                  "x2": {"field": "x1"},
                  "y": {"field": "v", "type": "quantitative", "axis": null}
                }
              },
              {
                "transform": [{"filter": "isValid(datum.lo)"}],
                "mark": {"type": "errorbar", "ticks": true, "size": 4, "thickness": 0.8},
                "encoding": {
                  "x": {"field": "r", "type": "quantitative", "axis": null},
                  "y": {"field": "lo", "type": "quantitative", "axis": null},
                  "y2": {"field": "hi"},
                  "color": {"field": "s", "type": "nominal", "scale": {"domain": ["all", "A", "B"], "range": ["#111111", "#e53935", "#1c1cc8"]}, "legend": null}
                }
              },
              {
                "transform": [{"filter": "isValid(datum.r)"}],
                "mark": {"type": "point", "filled": true, "opacity": 1},
                "encoding": {
                  "x": {"field": "r", "type": "quantitative", "axis": null},
                  "y": {"field": "v", "type": "quantitative", "axis": null},
                  "color": {"field": "s", "type": "nominal", "legend": null},
                  "shape": {"field": "s", "type": "nominal", "scale": {"domain": ["all", "A", "B"], "range": ["square", "triangle-up", "circle"]}, "legend": null},
                  "size": {"field": "s", "type": "nominal", "scale": {"domain": ["all", "A", "B"], "range": [7, 26, 22]}, "legend": null}
                }
              },
              {
                "transform": [{"aggregate": [{"op": "max", "field": "v", "as": "top"}], "groupby": ["p"]}],
                "mark": {"type": "text", "align": "right", "baseline": "top", "dx": -2, "dy": 1, "fontSize": 9, "fontWeight": "bold", "font": "Liberation Sans", "color": "#111111"},
                "encoding": {
                  "x": {"datum": 6.03, "type": "quantitative", "axis": null},
                  "y": {"field": "top", "type": "quantitative", "axis": null},
                  "text": {"field": "p"}
                }
              }
            ]
          }
        }
      ]
    },
    {
      "spacing": 0,
      "vconcat": [
        {
          "transform": [{"filter": "datum.side === 'R' && datum.p !== 'e'"}],
          "facet": {"row": {"field": "p", "type": "nominal", "header": {"title": null,
            "labelExpr": "datum.value === 'a' ? 'Orb. coverage (h)' : datum.value === 'b' ? 'Sdown1 [mW/m2]' : datum.value === 'c' ? 'Sdown2' : 'Sdown5'"}}},
          "spacing": 0,
          "resolve": {"scale": {"y": "independent"}, "axis": {"x": "independent"}},
          "spec": {
            "width": 179,
            "height": 52,
            "resolve": {"axis": {"x": "independent"}},
            "layer": [
              {
                "transform": [{"filter": "datum.s !== 'all'"}],
                "mark": {"type": "rect", "fillOpacity": 0, "strokeWidth": 1.2},
                "encoding": {
                  "x": {"field": "x0", "type": "quantitative", "scale": {"domain": [0.66, 6.03], "nice": false, "zero": false},
                    "axis": {"orient": "bottom", "title": null, "labels": false, "values": [0.7,0.8,0.9,1,1.1,1.2,1.3,1.4,1.5,1.6,1.7,1.8,1.9,2,2.1,2.2,2.3,2.4,2.5,2.6,2.7,2.8,2.9,3,3.1,3.2,3.3,3.4,3.5,3.6,3.7,3.8,3.9,4,4.1,4.2,4.3,4.4,4.5,4.6,4.7,4.8,4.9,5,5.1,5.2,5.3,5.4,5.5,5.6,5.7,5.8,5.9,6],
                      "tickSize": {"condition": {"test": "datum.value % 1 === 0", "value": 3.5}, "value": 2}}},
                  "x2": {"field": "x1"},
                  "y": {"field": "v", "type": "quantitative", "scale": {"zero": true, "nice": false, "padding": 1},
                    "axis": {"title": null, "tickCount": 8, "tickMinStep": 0.5, "format": "~g", "tickSize": 2.5, "labelPadding": 1}},
                  "y2": {"datum": 0},
                  "stroke": {"field": "s", "type": "nominal", "scale": {"domain": ["A", "B"], "range": ["#e53935", "#1c1cc8"]}, "legend": null}
                }
              },
              {
                "transform": [{"filter": "datum.s === 'all' && datum.p === 'a'"}],
                "mark": {"type": "rect", "fillOpacity": 0, "stroke": "#8c8c8c", "strokeWidth": 0.8, "strokeDash": [2, 1.5]},
                "encoding": {
                  "x": {"field": "x0", "type": "quantitative", "axis": null},
                  "x2": {"field": "x1"},
                  "y": {"field": "v", "type": "quantitative", "axis": null},
                  "y2": {"datum": 0}
                }
              },
              {
                "transform": [{"filter": "datum.s === 'all' && datum.p !== 'a'"}],
                "mark": {"type": "rule", "stroke": "#8c8c8c", "strokeWidth": 0.8, "strokeDash": [2, 1.5]},
                "encoding": {
                  "x": {"field": "x0", "type": "quantitative",
                    "axis": {"orient": "top", "title": null, "labels": false, "values": [0.7,0.8,0.9,1,1.1,1.2,1.3,1.4,1.5,1.6,1.7,1.8,1.9,2,2.1,2.2,2.3,2.4,2.5,2.6,2.7,2.8,2.9,3,3.1,3.2,3.3,3.4,3.5,3.6,3.7,3.8,3.9,4,4.1,4.2,4.3,4.4,4.5,4.6,4.7,4.8,4.9,5,5.1,5.2,5.3,5.4,5.5,5.6,5.7,5.8,5.9,6],
                      "tickSize": {"condition": {"test": "datum.value % 1 === 0", "value": 3.5}, "value": 2}}},
                  "x2": {"field": "x1"},
                  "y": {"field": "v", "type": "quantitative", "axis": null}
                }
              },
              {
                "transform": [{"filter": "isValid(datum.lo)"}],
                "mark": {"type": "errorbar", "ticks": true, "size": 4, "thickness": 0.8},
                "encoding": {
                  "x": {"field": "r", "type": "quantitative", "axis": null},
                  "y": {"field": "lo", "type": "quantitative", "axis": null},
                  "y2": {"field": "hi"},
                  "color": {"field": "s", "type": "nominal", "scale": {"domain": ["all", "A", "B"], "range": ["#111111", "#e53935", "#1c1cc8"]}, "legend": null}
                }
              },
              {
                "transform": [{"filter": "isValid(datum.r)"}],
                "mark": {"type": "point", "filled": true, "opacity": 1},
                "encoding": {
                  "x": {"field": "r", "type": "quantitative", "axis": null},
                  "y": {"field": "v", "type": "quantitative", "axis": null},
                  "color": {"field": "s", "type": "nominal", "legend": null},
                  "shape": {"field": "s", "type": "nominal", "scale": {"domain": ["all", "A", "B"], "range": ["square", "triangle-up", "circle"]}, "legend": null},
                  "size": {"field": "s", "type": "nominal", "scale": {"domain": ["all", "A", "B"], "range": [7, 26, 22]}, "legend": null}
                }
              },
              {
                "transform": [{"aggregate": [{"op": "max", "field": "v", "as": "top"}], "groupby": ["p"]}],
                "mark": {"type": "text", "align": "right", "baseline": "top", "dx": -2, "dy": 1, "fontSize": 9, "fontWeight": "bold", "font": "Liberation Sans", "color": "#111111"},
                "encoding": {
                  "x": {"datum": 6.03, "type": "quantitative", "axis": null},
                  "y": {"field": "top", "type": "quantitative", "axis": null},
                  "text": {"field": "p"}
                }
              },
              {
                "transform": [{"filter": "datum.p === 'a'"}, {"aggregate": [{"op": "max", "field": "v", "as": "top"}]}],
                "mark": {"type": "text", "align": "left", "baseline": "top", "dy": 5, "fontSize": 5.5, "font": "Liberation Mono", "color": "#555555", "text": "Polar S multiplied by 1.5"},
                "encoding": {
                  "x": {"datum": 0.85, "type": "quantitative", "axis": null},
                  "y": {"field": "top", "type": "quantitative", "axis": null}
                }
              }
            ]
          }
        },
        {
          "transform": [{"filter": "datum.side === 'R' && datum.p === 'e'"}],
          "facet": {"row": {"field": "p", "type": "nominal", "header": {"title": null, "labelExpr": "'Sdown_T01smolac'"}}},
          "spacing": 0,
          "resolve": {"scale": {"y": "independent"}, "axis": {"x": "independent"}},
          "spec": {
            "width": 179,
            "height": 52,
            "resolve": {"axis": {"x": "independent"}},
            "layer": [
              {
                "transform": [{"filter": "datum.s !== 'all'"}],
                "mark": {"type": "rect", "fillOpacity": 0, "strokeWidth": 1.2},
                "encoding": {
                  "x": {"field": "x0", "type": "quantitative", "scale": {"domain": [0.66, 6.03], "nice": false, "zero": false},
                    "axis": {"orient": "bottom", "labels": true, "format": "~g", "labelExpr": "datum.value % 1 === 0 ? datum.label : ''", "labelOverlap": false, "labelFlush": false, "labelFontSize": 5.5, "labelPadding": 1,
                      "values": [0.7,0.8,0.9,1,1.1,1.2,1.3,1.4,1.5,1.6,1.7,1.8,1.9,2,2.1,2.2,2.3,2.4,2.5,2.6,2.7,2.8,2.9,3,3.1,3.2,3.3,3.4,3.5,3.6,3.7,3.8,3.9,4,4.1,4.2,4.3,4.4,4.5,4.6,4.7,4.8,4.9,5,5.1,5.2,5.3,5.4,5.5,5.6,5.7,5.8,5.9,6],
                      "tickSize": {"condition": {"test": "datum.value % 1 === 0", "value": 3.5}, "value": 2},
                      "title": "R/R_E", "titleX": 189, "titleY": 8.5, "titleAlign": "left", "titleBaseline": "middle", "titleAngle": 0, "titleFontSize": 5.5, "titleFontWeight": "normal", "titleColor": "#555555"}},
                  "x2": {"field": "x1"},
                  "y": {"field": "v", "type": "quantitative", "scale": {"zero": true, "nice": false, "padding": 1},
                    "axis": {"title": null, "tickCount": 6, "format": "~g", "tickSize": 2.5, "labelPadding": 1}},
                  "y2": {"datum": 0},
                  "stroke": {"field": "s", "type": "nominal", "scale": {"domain": ["A", "B"], "range": ["#e53935", "#1c1cc8"]}, "legend": null}
                }
              },
              {
                "transform": [{"filter": "datum.s === 'all'"}],
                "mark": {"type": "rule", "stroke": "#8c8c8c", "strokeWidth": 0.8, "strokeDash": [2, 1.5]},
                "encoding": {
                  "x": {"field": "x0", "type": "quantitative",
                    "axis": {"orient": "top", "title": null, "labels": false, "values": [0.7,0.8,0.9,1,1.1,1.2,1.3,1.4,1.5,1.6,1.7,1.8,1.9,2,2.1,2.2,2.3,2.4,2.5,2.6,2.7,2.8,2.9,3,3.1,3.2,3.3,3.4,3.5,3.6,3.7,3.8,3.9,4,4.1,4.2,4.3,4.4,4.5,4.6,4.7,4.8,4.9,5,5.1,5.2,5.3,5.4,5.5,5.6,5.7,5.8,5.9,6],
                      "tickSize": {"condition": {"test": "datum.value % 1 === 0", "value": 3.5}, "value": 2}}},
                  "x2": {"field": "x1"},
                  "y": {"field": "v", "type": "quantitative", "axis": null}
                }
              },
              {
                "transform": [{"filter": "isValid(datum.lo)"}],
                "mark": {"type": "errorbar", "ticks": true, "size": 4, "thickness": 0.8},
                "encoding": {
                  "x": {"field": "r", "type": "quantitative", "axis": null},
                  "y": {"field": "lo", "type": "quantitative", "axis": null},
                  "y2": {"field": "hi"},
                  "color": {"field": "s", "type": "nominal", "scale": {"domain": ["all", "A", "B"], "range": ["#111111", "#e53935", "#1c1cc8"]}, "legend": null}
                }
              },
              {
                "transform": [{"filter": "isValid(datum.r)"}],
                "mark": {"type": "point", "filled": true, "opacity": 1},
                "encoding": {
                  "x": {"field": "r", "type": "quantitative", "axis": null},
                  "y": {"field": "v", "type": "quantitative", "axis": null},
                  "color": {"field": "s", "type": "nominal", "legend": null},
                  "shape": {"field": "s", "type": "nominal", "scale": {"domain": ["all", "A", "B"], "range": ["square", "triangle-up", "circle"]}, "legend": null},
                  "size": {"field": "s", "type": "nominal", "scale": {"domain": ["all", "A", "B"], "range": [7, 26, 22]}, "legend": null}
                }
              },
              {
                "transform": [{"aggregate": [{"op": "max", "field": "v", "as": "top"}], "groupby": ["p"]}],
                "mark": {"type": "text", "align": "right", "baseline": "top", "dx": -2, "dy": 1, "fontSize": 9, "fontWeight": "bold", "font": "Liberation Sans", "color": "#111111"},
                "encoding": {
                  "x": {"datum": 6.03, "type": "quantitative", "axis": null},
                  "y": {"field": "top", "type": "quantitative", "axis": null},
                  "text": {"field": "p"}
                }
              }
            ]
          }
        }
      ]
    }
  ]
}
